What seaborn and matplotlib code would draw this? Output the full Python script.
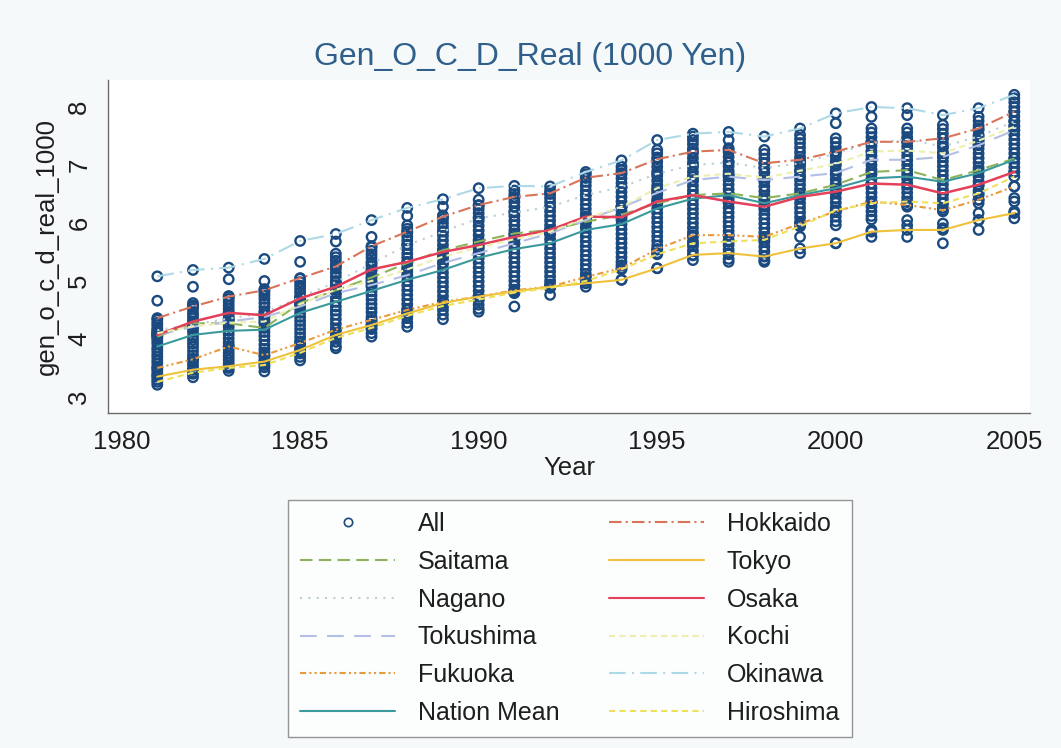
"""Gen_O_C_D_Real by prefecture, 1981-2005, all prefectures plus selected ones."""

import matplotlib

matplotlib.use("Agg")
import matplotlib.pyplot as plt
import pandas as pd
import seaborn as sns
from matplotlib.lines import Line2D


# Data.
years = list(range(1981, 2006))

hokkaido = [4.36, 4.56, 4.73, 4.84, 5.05, 5.25, 5.60, 5.85, 6.11, 6.31, 6.45, 6.51, 6.78,
            6.86, 7.10, 7.23, 7.26, 7.03, 7.09, 7.23, 7.40, 7.40, 7.46, 7.63, 7.92]
saitama = [4.04, 4.27, 4.27, 4.19, 4.62, 4.84, 5.06, 5.31, 5.53, 5.68, 5.82, 5.88, 6.02,
           6.14, 6.34, 6.48, 6.51, 6.43, 6.51, 6.66, 6.88, 6.91, 6.74, 6.91, 7.11]
tokyo = [3.35, 3.47, 3.53, 3.61, 3.81, 4.07, 4.24, 4.44, 4.62, 4.73, 4.82, 4.90, 4.96,
         5.02, 5.22, 5.45, 5.48, 5.42, 5.56, 5.65, 5.85, 5.88, 5.88, 6.05, 6.17]
nagano = [4.15, 4.25, 4.35, 4.45, 4.72, 4.98, 5.30, 5.62, 5.85, 6.08, 6.18, 6.28, 6.48,
          6.62, 6.85, 7.00, 7.04, 6.95, 7.03, 7.20, 7.38, 7.44, 7.32, 7.49, 7.75]
osaka = [4.07, 4.30, 4.45, 4.41, 4.70, 4.90, 5.20, 5.33, 5.50, 5.62, 5.76, 5.88, 6.11,
         6.10, 6.37, 6.48, 6.37, 6.28, 6.45, 6.54, 6.68, 6.66, 6.51, 6.66, 6.88]
tokushima = [4.07, 4.21, 4.30, 4.38, 4.56, 4.79, 4.93, 5.10, 5.31, 5.48, 5.65, 5.82, 6.05,
             6.27, 6.52, 6.74, 6.80, 6.74, 6.80, 6.86, 7.09, 7.09, 7.14, 7.34, 7.60]
kochi = [4.10, 4.22, 4.28, 4.30, 4.60, 4.85, 5.00, 5.20, 5.42, 5.58, 5.72, 5.85, 6.08,
         6.28, 6.60, 6.80, 6.85, 6.78, 6.90, 7.02, 7.23, 7.25, 7.20, 7.42, 7.66]
fukuoka = [3.50, 3.65, 3.87, 3.72, 3.93, 4.16, 4.33, 4.50, 4.64, 4.73, 4.84, 4.90, 5.07,
           5.22, 5.55, 5.79, 5.79, 5.76, 5.99, 6.20, 6.37, 6.31, 6.22, 6.40, 6.63]
okinawa = [5.08, 5.19, 5.23, 5.38, 5.69, 5.81, 6.05, 6.26, 6.41, 6.60, 6.64, 6.63, 6.88,
           7.08, 7.43, 7.54, 7.57, 7.49, 7.63, 7.89, 8.00, 7.98, 7.86, 7.98, 8.21]
nation_mean = [3.87, 4.07, 4.14, 4.16, 4.45, 4.64, 4.83, 5.02, 5.19, 5.40, 5.55, 5.65, 5.88,
               5.98, 6.25, 6.42, 6.48, 6.34, 6.48, 6.60, 6.77, 6.80, 6.71, 6.86, 7.09]
hiroshima = [3.26, 3.42, 3.50, 3.55, 3.76, 4.02, 4.19, 4.40, 4.57, 4.68, 4.80, 4.88, 5.00,
             5.20, 5.46, 5.65, 5.68, 5.71, 5.94, 6.22, 6.34, 6.37, 6.34, 6.51, 6.80]

# Remaining prefectures, one list per year (1981..2005).
other_prefs = [
    [4.66, 4.33, 4.28, 4.24, 4.19, 4.13, 4.09, 4.02, 3.97, 3.92, 3.85, 3.80, 3.74, 3.69, 3.63,
     3.58, 3.52, 3.46, 3.41, 3.37, 3.30, 3.21],
    [4.90, 4.62, 4.58, 4.52, 4.46, 4.41, 4.36, 4.30, 4.24, 4.18, 4.12, 4.04, 3.98, 3.92, 3.86,
     3.79, 3.72, 3.66, 3.60, 3.54, 3.47, 3.40, 3.34],
    [5.03, 4.74, 4.69, 4.64, 4.58, 4.52, 4.46, 4.40, 4.34, 4.28, 4.21, 4.14, 4.08, 4.01, 3.94,
     3.88, 3.82, 3.76, 3.70, 3.64, 3.58, 3.52, 3.45],
    [5.00, 4.86, 4.80, 4.75, 4.69, 4.62, 4.55, 4.48, 4.41, 4.34, 4.27, 4.20, 4.12, 4.05, 3.98,
     3.90, 3.83, 3.77, 3.70, 3.64, 3.58, 3.51, 3.44],
    [5.33, 5.04, 4.98, 4.92, 4.86, 4.80, 4.73, 4.66, 4.59, 4.52, 4.45, 4.38, 4.31, 4.24, 4.17,
     4.10, 4.03, 3.96, 3.89, 3.82, 3.75, 3.69, 3.63],
    [5.68, 5.47, 5.41, 5.35, 5.28, 5.21, 5.14, 5.07, 5.00, 4.93, 4.86, 4.79, 4.72, 4.64, 4.56,
     4.49, 4.42, 4.34, 4.26, 4.18, 4.10, 4.02, 3.95, 3.88, 3.84],
    [5.76, 5.58, 5.52, 5.46, 5.40, 5.33, 5.26, 5.18, 5.11, 5.04, 4.97, 4.90, 4.82, 4.75, 4.68,
     4.60, 4.53, 4.46, 4.38, 4.31, 4.24, 4.17, 4.10, 4.04],
    [6.12, 5.96, 5.90, 5.84, 5.77, 5.70, 5.63, 5.55, 5.47, 5.40, 5.32, 5.24, 5.16, 5.08, 5.00,
     4.92, 4.84, 4.76, 4.68, 4.60, 4.52, 4.44, 4.36, 4.28, 4.21],
    [6.28, 6.13, 6.07, 6.00, 5.93, 5.86, 5.78, 5.70, 5.62, 5.54, 5.46, 5.38, 5.30, 5.22, 5.14,
     5.06, 4.98, 4.90, 4.82, 4.74, 4.66, 4.58, 4.50, 4.42, 4.34],
    [6.40, 6.30, 6.24, 6.17, 6.10, 6.03, 5.95, 5.87, 5.79, 5.71, 5.63, 5.55, 5.47, 5.39, 5.31,
     5.23, 5.15, 5.07, 4.99, 4.91, 4.83, 4.75, 4.67, 4.59, 4.52, 4.47],
    [6.56, 6.50, 6.43, 6.36, 6.28, 6.20, 6.12, 6.04, 5.96, 5.88, 5.80, 5.72, 5.64, 5.56, 5.48,
     5.40, 5.32, 5.24, 5.16, 5.08, 5.00, 4.92, 4.85, 4.79, 4.56],
    [6.56, 6.50, 6.43, 6.36, 6.28, 6.20, 6.12, 6.04, 5.96, 5.88, 5.80, 5.72, 5.64, 5.56, 5.48,
     5.40, 5.32, 5.24, 5.16, 5.08, 5.00, 4.94, 4.90, 4.76],
    [6.84, 6.78, 6.71, 6.64, 6.56, 6.48, 6.40, 6.32, 6.24, 6.16, 6.08, 6.00, 5.92, 5.84, 5.76,
     5.68, 5.60, 5.52, 5.44, 5.36, 5.28, 5.20, 5.12, 5.05, 5.02, 4.90],
    [6.97, 6.91, 6.84, 6.77, 6.69, 6.61, 6.53, 6.45, 6.37, 6.29, 6.21, 6.13, 6.05, 5.97, 5.89,
     5.81, 5.73, 5.65, 5.57, 5.49, 5.41, 5.33, 5.27, 5.02],
    [7.26, 7.20, 7.13, 7.05, 6.97, 6.89, 6.81, 6.73, 6.65, 6.57, 6.49, 6.41, 6.33, 6.25, 6.17,
     6.09, 6.01, 5.93, 5.85, 5.77, 5.69, 5.61, 5.54, 5.48, 5.22],
    [7.49, 7.43, 7.36, 7.28, 7.20, 7.12, 7.04, 6.96, 6.88, 6.80, 6.72, 6.64, 6.56, 6.48, 6.40,
     6.32, 6.24, 6.16, 6.08, 6.00, 5.92, 5.84, 5.76, 5.68, 5.60, 5.52, 5.44, 5.36],
    [7.43, 7.29, 7.22, 7.14, 7.06, 6.98, 6.90, 6.82, 6.74, 6.66, 6.58, 6.50, 6.42, 6.34, 6.26,
     6.18, 6.10, 6.02, 5.94, 5.86, 5.78, 5.70, 5.62, 5.54, 5.46, 5.38, 5.33],
    [7.26, 7.19, 7.11, 7.03, 6.95, 6.87, 6.79, 6.71, 6.63, 6.55, 6.47, 6.39, 6.31, 6.23, 6.15,
     6.07, 5.99, 5.91, 5.83, 5.75, 5.67, 5.59, 5.51, 5.43, 5.36, 5.33],
    [7.52, 7.45, 7.38, 7.30, 7.22, 7.14, 7.06, 6.98, 6.90, 6.82, 6.74, 6.66, 6.58, 6.50, 6.42,
     6.34, 6.26, 6.18, 6.10, 6.02, 5.96, 5.76, 5.48],
    [7.72, 7.46, 7.39, 7.31, 7.23, 7.15, 7.07, 6.99, 6.91, 6.83, 6.75, 6.67, 6.59, 6.51, 6.43,
     6.35, 6.27, 6.19, 6.11, 6.03, 5.96, 5.65],
    [7.83, 7.63, 7.56, 7.48, 7.40, 7.32, 7.24, 7.16, 7.08, 7.00, 6.92, 6.84, 6.76, 6.68, 6.60,
     6.52, 6.44, 6.36, 6.28, 6.20, 6.12, 6.06, 5.88, 5.76],
    [7.86, 7.63, 7.56, 7.48, 7.40, 7.32, 7.24, 7.16, 7.08, 7.00, 6.92, 6.84, 6.76, 6.68, 6.60,
     6.52, 6.44, 6.36, 6.28, 6.05, 5.96, 5.76],
    [7.69, 7.62, 7.54, 7.46, 7.38, 7.30, 7.22, 7.14, 7.06, 6.98, 6.90, 6.82, 6.74, 6.66, 6.58,
     6.50, 6.42, 6.34, 6.26, 6.20, 5.99, 5.91, 5.65],
    [7.83, 7.76, 7.68, 7.60, 7.52, 7.44, 7.36, 7.28, 7.20, 7.12, 7.04, 6.96, 6.88, 6.80, 6.72,
     6.64, 6.56, 6.48, 6.40, 6.34, 6.17, 6.05, 5.88],
    [8.15, 8.08, 8.00, 7.92, 7.84, 7.76, 7.68, 7.60, 7.52, 7.44, 7.36, 7.28, 7.20, 7.12, 7.04,
     6.96, 6.88, 6.63, 6.43, 6.37, 6.20, 6.08],
]

# Selected prefectures: (label, values, colour, linestyle).
series = [
    ("Saitama", saitama, "#8db35a", (0, (6, 3))),
    ("Nagano", nagano, "#b9cfd2", (0, (1, 3))),
    ("Tokushima", tokushima, "#b3bfe3", (0, (8, 5))),
    ("Fukuoka", fukuoka, "#e99a3c", (0, (3, 1.5, 1, 1.5, 1, 1.5))),
    ("Nation Mean", nation_mean, "#3b9a9b", "-"),
    ("Hokkaido", hokkaido, "#d9745a", (0, (6, 2, 1, 2))),
    ("Tokyo", tokyo, "#efc23c", "-"),
    ("Osaka", osaka, "#e5405a", "-"),
    ("Kochi", kochi, "#ecefad", (0, (3, 2))),
    ("Okinawa", okinawa, "#aed9e6", (0, (8, 3, 1, 3))),
    ("Hiroshima", hiroshima, "#efe05a", (0, (3, 2))),
]

navy = "#1b4a80"

# Long table of all prefecture points for the scatter.
rows = []
for i, year in enumerate(years):
    for v in other_prefs[i]:
        rows.append({"year": year, "value": v})
    for name, vals, _c, _ls in series:
        if name != "Nation Mean":
            rows.append({"year": year, "value": vals[i]})
all_points = pd.DataFrame(rows)

sns.set_theme(style="white")
plt.rcParams["font.family"] = ["Liberation Sans", "DejaVu Sans"]

fig = plt.figure(figsize=(10.61, 7.48), dpi=100, facecolor="#f5f9fa")
ax = fig.add_axes([0.1018, 0.4479, 0.869, 0.4452])
ax.set_facecolor("white")

sns.scatterplot(
    data=all_points, x="year", y="value", ax=ax,
    marker="o", s=46, facecolor="none", edgecolor=navy, linewidth=1.7, legend=False, zorder=2,
)

for name, vals, color, ls in series:
    sns.lineplot(x=years, y=vals, ax=ax, color=color, linestyle=ls,
                 linewidth=1.5 if name != "Osaka" else 1.8, zorder=3)

ax.set_xlim(1979.62, 2005.44)
ax.set_ylim(2.724, 8.466)
ax.set_xticks([1980, 1985, 1990, 1995, 2000, 2005])
ax.set_yticks([3, 4, 5, 6, 7, 8])

for side in ["top", "right"]:
    ax.spines[side].set_visible(False)
for side in ["left", "bottom"]:
    ax.spines[side].set_color("#6b6b6b")
    ax.spines[side].set_linewidth(1.0)

ax.tick_params(axis="both", direction="out", length=7, width=1, color="#6b6b6b",
               labelsize=18.5, labelcolor="#1e1e1e", pad=5)
ax.tick_params(axis="y", labelrotation=90)
for lab in ax.get_yticklabels():
    lab.set_va("center")

ax.set_xlabel("Year", fontsize=18.5, color="#1e1e1e", labelpad=2)
ax.set_ylabel("gen_o_c_d_real_1000", fontsize=18.5, color="#1e1e1e", labelpad=6)

fig.suptitle("Gen_O_C_D_Real (1000 Yen)", x=0.5, y=0.924, va="center",
             fontsize=23, color="#2f5f8a")

# Legend in Stata order (row-wise), rebuilt for matplotlib's column-wise fill.
handles = {"All": Line2D([], [], marker="o", linestyle="none", markerfacecolor="none",
                         markeredgecolor=navy, markersize=6, markeredgewidth=1.2)}
for name, _vals, color, ls in series:
    handles[name] = Line2D([], [], color=color, linestyle=ls, linewidth=1.5)
order = ["All", "Saitama", "Nagano", "Tokushima", "Fukuoka", "Nation Mean",
         "Hokkaido", "Tokyo", "Osaka", "Kochi", "Okinawa", "Hiroshima"]
leg = fig.legend(
    [handles[n] for n in order], order,
    loc="upper center", bbox_to_anchor=(0.537, 0.332), borderaxespad=0, ncol=2,
    fontsize=18, frameon=True, fancybox=False, edgecolor="#7a7a7a",
    handlelength=3.8, handletextpad=0.9, columnspacing=2.0, labelspacing=0.55,
    borderpad=0.5,
)
leg.get_frame().set_linewidth(1.0)
leg.get_frame().set_facecolor("white")
for t in leg.get_texts():
    t.set_color("#1e1e1e")

fig.savefig("out.png", dpi=100, facecolor=fig.get_facecolor())
